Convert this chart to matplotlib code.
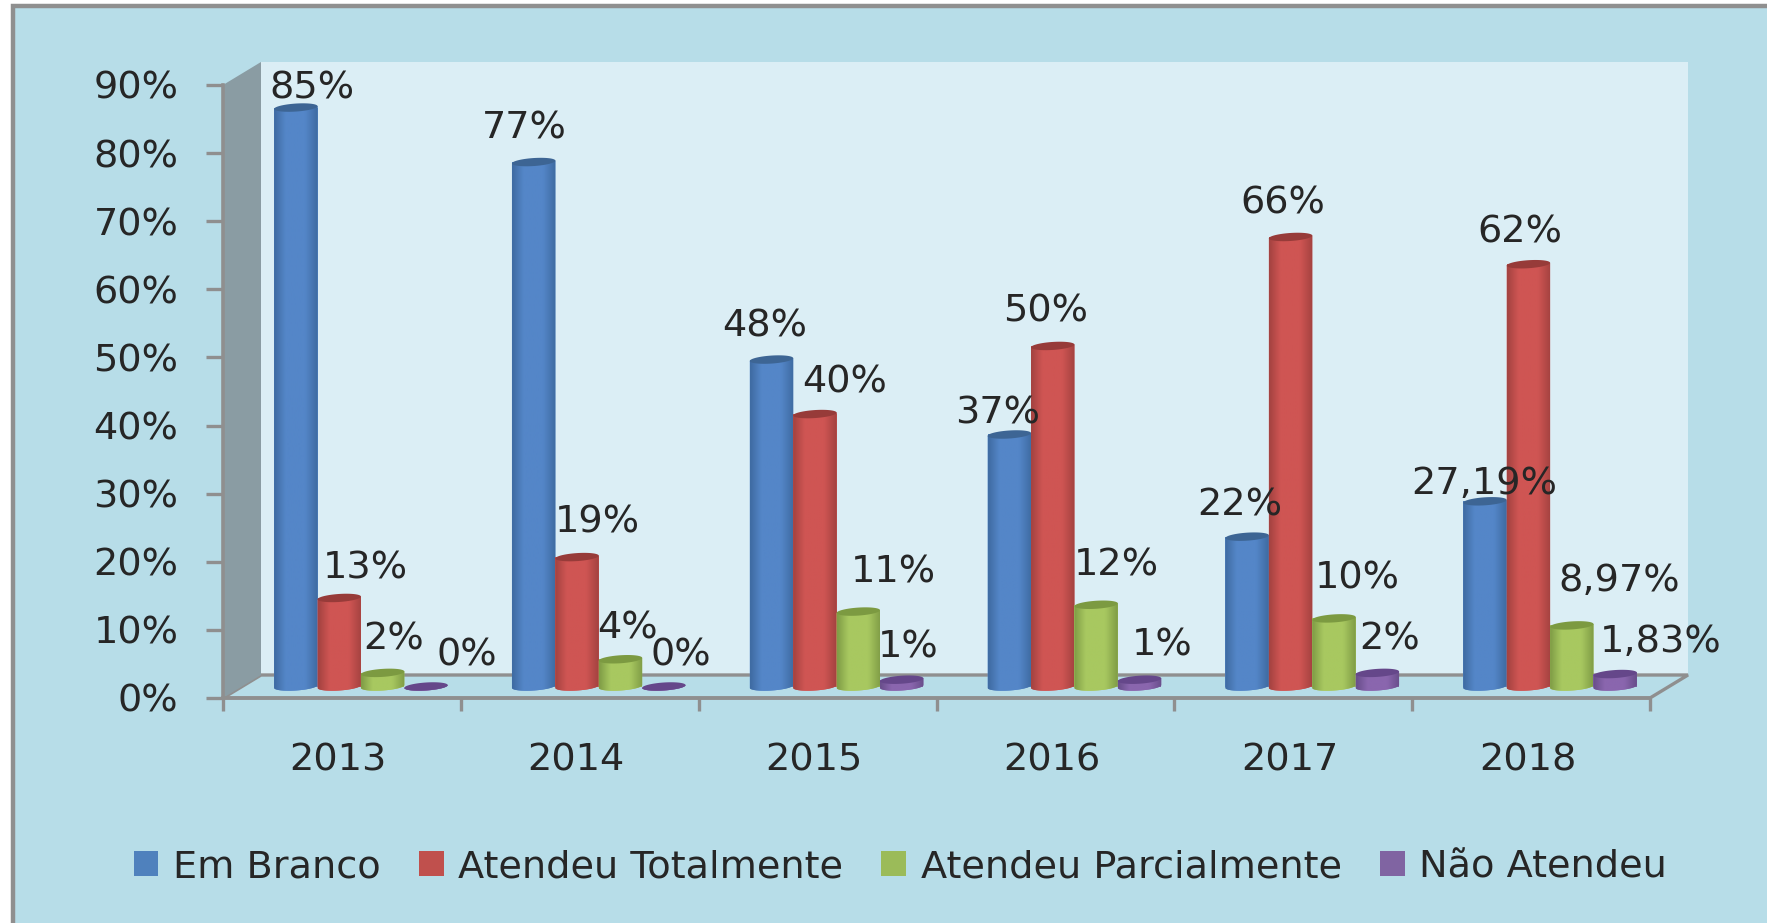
import numpy as np
import matplotlib
matplotlib.use("Agg")
import matplotlib.pyplot as plt
from matplotlib.colors import LinearSegmentedColormap
from matplotlib.patches import Patch, Polygon, Rectangle

W, H = 1767, 923

years = ["2013", "2014", "2015", "2016", "2017", "2018"]
series_names = ["Em Branco", "Atendeu Totalmente", "Atendeu Parcialmente", "Não Atendeu"]
em_branco = [85, 77, 48, 37, 22, 27.19]
atendeu_total = [13, 19, 40, 50, 66, 62]
atendeu_parcial = [2, 4, 11, 12, 10, 8.97]
nao_atendeu = [0, 0, 1, 1, 2, 1.83]
y_ticks = [0, 10, 20, 30, 40, 50, 60, 70, 80, 90]

labels_blue = ["85%", "77%", "48%", "37%", "22%", "27,19%"]
labels_red = ["13%", "19%", "40%", "50%", "66%", "62%"]
labels_green = ["2%", "4%", "11%", "12%", "10%", "8,97%"]
labels_purple = ["0%", "0%", "1%", "1%", "2%", "1,83%"]

# label offsets from the top of each bar, in pixels
offs_blue = [(16, 19), (-9, 34), (-7, 33), (-12, 21), (-7, 31), (-1, 17)]
offs_red = [(26, 29), (20, 35), (30, 32), (-7, 34), (-8, 33), (-9, 32)]
offs_green = [(11, 33), (7, 31), (35, 39), (20, 39), (23, 40), (47, 44)]
offs_purple = [(41, 31), (17, 31), (7, 32), (23, 34), (12, 33), (46, 32)]

# (base colour, edge colour, mid colour, top colour)
colors = [
    ("#4F81BD", "#3F6CA3", "#5486C8", "#3D6594"),
    ("#C0504D", "#A54341", "#CF5553", "#973B39"),
    ("#9BBB59", "#819E47", "#A8C860", "#7C9A41"),
    ("#8064A2", "#6A4F8C", "#8A66AE", "#65478A"),
]

BG = "#B7DDE8"
WALL = "#DBEEF5"
GREY = "#8F8F8F"
TEXT = "#262626"
FS = 27.5

# pixel geometry of the fake 3d box
LEFT, RIGHT = 223, 1650
Y0, Y90 = 698, 85
DX, DY = 38, 23


def box_axes(fig, shift, z):
    # axes for one depth slice of the box, shift 0 = front, 1 = back
    x0 = (LEFT + DX * shift) / W
    y0 = 1 - (Y0 - DY * shift) / H
    ax = fig.add_axes([x0, y0, (RIGHT - LEFT) / W, (Y0 - Y90) / H], zorder=z)
    ax.set_xlim(0, 6)
    ax.set_ylim(0, 90)
    return ax


def px(x, y):
    return x / W, 1 - y / H


def cylinder(ax, x, w, v, cols, z):
    hgt = 4 / 6.81  # half height of the ellipse, in %
    tilt = 1.4 / 6.81
    t = np.linspace(0, np.pi, 40)
    xc = x + w / 2
    ex = xc - np.cos(t) * w / 2
    sl = -np.cos(t) * tilt
    # body: bottom half ellipse then up to the top
    bx = np.r_[ex, x + w, x]
    by = np.r_[-np.sin(t) * hgt + sl, v + tilt, v - tilt]
    body = Polygon(np.c_[bx, by], closed=True, fc=cols[2], ec="none", zorder=z, clip_on=False)
    ax.add_patch(body)
    cmap = LinearSegmentedColormap.from_list("c", [(0, cols[1]), (0.25, cols[2]), (0.72, cols[2]), (1, cols[1])])
    im = ax.imshow(cmap(np.linspace(0, 1, 24)[None, :]), extent=(x, x + w, -2, v + 2), aspect="auto",
                   zorder=z, interpolation="bilinear")
    im.set_clip_box(ax.figure.bbox)
    im.set_clip_path(body)
    tt = np.linspace(0, 2 * np.pi, 80)
    top = np.c_[xc - np.cos(tt) * w / 2, v + np.sin(tt) * hgt - np.cos(tt) * tilt]
    ax.add_patch(Polygon(top, closed=True, fc=cols[3], ec="none", zorder=z + 0.1, clip_on=False))


fig = plt.figure(figsize=(W / 100, H / 100), dpi=100, facecolor="white")
plt.rcParams["font.family"] = "DejaVu Sans"

# outer frame, runs off the right and bottom edges
fx, fy = px(13, 6)
fig.add_artist(Rectangle((fx, -0.05), 1.1, fy + 0.05, transform=fig.transFigure,
                         fc=BG, ec=GREY, lw=3.2, zorder=-5))

back = box_axes(fig, 1, 0)
back.set_facecolor(WALL)
back.set_xticks([])
back.set_yticks([])
for s in back.spines.values():
    s.set_visible(False)

# side wall and floor
floor = [px(LEFT, Y0), px(LEFT + DX, Y0 - DY), px(RIGHT + DX, Y0 - DY), px(RIGHT, Y0)]
fig.add_artist(Polygon(floor, closed=True, transform=fig.transFigure, fc=BG, ec=GREY, lw=2.4, zorder=1))
side = [px(LEFT, Y90), px(LEFT + DX, Y90 - DY), px(LEFT + DX, Y0 - DY), px(LEFT, Y0)]
fig.add_artist(Polygon(side, closed=True, transform=fig.transFigure, fc="#8A9CA3", ec="none", zorder=1.1))

front = box_axes(fig, 0, 2)
front.patch.set_alpha(0)
for k in ("top", "right"):
    front.spines[k].set_visible(False)
for k in ("left", "bottom"):
    front.spines[k].set_color(GREY)
    front.spines[k].set_linewidth(2.6)
front.set_yticks(y_ticks)
front.set_yticklabels([f"{v}%" for v in y_ticks])
front.set_xticks(np.arange(7))
front.set_xticklabels([])
front.set_xticks(np.arange(6) + 0.485, minor=True)
front.set_xticklabels(years, minor=True)
front.tick_params(axis="y", length=12, width=2.4, color=GREY, pad=20, labelsize=FS, labelcolor=TEXT)
front.tick_params(axis="x", which="major", length=9, width=2.4, color=GREY)
front.tick_params(axis="x", which="minor", length=0, pad=32, labelsize=FS, labelcolor=TEXT)

# bars sit half way in the box
ax = box_axes(fig, 0.5, 3)
ax.patch.set_alpha(0)
ax.axis("off")

n = 4
bw = 43.4 / ((RIGHT - LEFT) / 6)
start = 0.5 - n * bw / 2
series = [em_branco, atendeu_total, atendeu_parcial, nao_atendeu]
all_labels = [labels_blue, labels_red, labels_green, labels_purple]
all_offs = [offs_blue, offs_red, offs_green, offs_purple]
xs = np.arange(len(years))

for j, vals in enumerate(series):
    bars = ax.bar(xs + start + j * bw, vals, bw, align="edge", color=colors[j][0], zorder=2 + j)
    for i, b in enumerate(bars):
        cylinder(ax, b.get_x(), b.get_width(), vals[i], colors[j], 2 + j + i * 0.01)
        ax.annotate(all_labels[j][i], (b.get_x() + bw / 2, vals[i]), xytext=all_offs[j][i],
                    textcoords="offset pixels", ha="center", va="center",
                    fontsize=FS, color=TEXT, zorder=20, annotation_clip=False)
ax.set_xlim(0, 6)
ax.set_ylim(0, 90)

handles = [Patch(fc=c[0], ec="none") for c in colors]
fig.legend(handles, series_names, ncol=4, loc="center", bbox_to_anchor=(0.5095, 1 - 867 / H),
           frameon=False, fontsize=FS, labelcolor=TEXT, handlelength=0.65, handleheight=0.65,
           handletextpad=0.38, columnspacing=1.0)

fig.savefig("out.png", dpi=100)
